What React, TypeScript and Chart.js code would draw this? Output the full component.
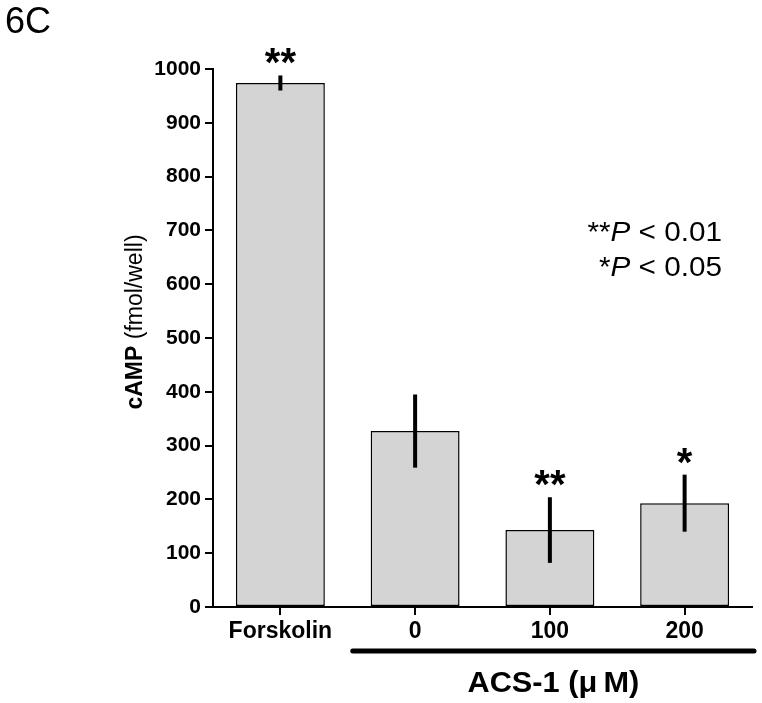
import React, { useEffect, useRef } from "react";
import { Chart, registerables } from "chart.js";

Chart.register(...registerables);

const categories = ["Forskolin", "0", "100", "200"];
const means = [974, 327, 143, 193];
const errors = [14, 68, 61, 53];
const stars = ["**", "", "**", "*"];
const yMin = 0;
const yMax = 1000;
const yStep = 100;

const FONT = "'Liberation Sans', Arial, Helvetica, sans-serif";

const overlayPlugin = {
  id: "overlay",
  afterDatasetsDraw(chart: any) {
    const ctx = chart.ctx;
    const x = chart.scales.x;
    const y = chart.scales.y;
    ctx.save();
    // error bars
    ctx.strokeStyle = "#000";
    ctx.lineWidth = 4;
    ctx.lineCap = "butt";
    means.forEach((m, i) => {
      const px = x.getPixelForValue(i);
      ctx.beginPath();
      ctx.moveTo(px, y.getPixelForValue(m + errors[i]));
      ctx.lineTo(px, y.getPixelForValue(m - errors[i]));
      ctx.stroke();
    });
    // significance stars
    ctx.fillStyle = "#000";
    ctx.font = `bold 40px ${FONT}`;
    ctx.textAlign = "center";
    ctx.textBaseline = "alphabetic";
    stars.forEach((s, i) => {
      if (!s) return;
      const px = x.getPixelForValue(i);
      const top = y.getPixelForValue(means[i] + errors[i]);
      ctx.fillText(s, px, top + 1);
    });
    ctx.restore();
  },
  afterDraw(chart: any) {
    const ctx = chart.ctx;
    const x = chart.scales.x;
    const area = chart.chartArea;
    ctx.save();
    ctx.fillStyle = "#000";
    ctx.textBaseline = "alphabetic";

    // panel label
    ctx.font = `36px ${FONT}`;
    ctx.textAlign = "left";
    ctx.fillText("6C", 5, 33);

    // y-axis title, mixed weight
    ctx.save();
    const cy = (area.top + area.bottom) / 2 - 16;
    ctx.translate(142, cy);
    ctx.rotate(-Math.PI / 2);
    ctx.font = `bold 23px ${FONT}`;
    const t1 = "cAMP ";
    const w1 = ctx.measureText(t1).width;
    ctx.font = `23px ${FONT}`;
    const t2 = "(fmol/well)";
    const w2 = ctx.measureText(t2).width;
    const start = -(w1 + w2) / 2;
    ctx.textAlign = "left";
    ctx.font = `bold 23px ${FONT}`;
    ctx.fillText(t1, start, 0);
    ctx.font = `23px ${FONT}`;
    ctx.fillText(t2, start + w1, 0);
    ctx.restore();

    // group underline for ACS-1 doses
    const half = (x.getPixelForValue(1) - x.getPixelForValue(0)) / 2;
    const x1 = x.getPixelForValue(1) - half + 5;
    const x2 = x.getPixelForValue(3) + half + 2;
    ctx.strokeStyle = "#000";
    ctx.lineWidth = 5;
    ctx.lineCap = "round";
    ctx.beginPath();
    ctx.moveTo(x1, 651);
    ctx.lineTo(x2, 651);
    ctx.stroke();

    ctx.save();
    ctx.translate((x1 + x2) / 2, 692);
    ctx.scale(1.06, 1);
    ctx.font = `bold 29px ${FONT}`;
    ctx.textAlign = "center";
    ctx.fillText("ACS-1 (\u03bc\u2009M)", 0, 0);
    ctx.restore();

    // P value legend (right aligned)
    const sx = 1.1;
    const size = 27;
    const drawLine = (parts: [string, boolean][], right: number, base: number) => {
      let total = 0;
      parts.forEach(([t, it]) => {
        ctx.font = `${it ? "italic " : ""}${size}px ${FONT}`;
        total += ctx.measureText(t).width;
      });
      ctx.save();
      ctx.translate(right, base);
      ctx.scale(sx, 1);
      let cx = -total;
      ctx.textAlign = "left";
      parts.forEach(([t, it]) => {
        ctx.font = `${it ? "italic " : ""}${size}px ${FONT}`;
        ctx.fillText(t, cx, 0);
        cx += ctx.measureText(t).width;
      });
      ctx.restore();
    };
    drawLine([["**", false], ["P", true], [" < 0.01", false]], 722, 241);
    drawLine([["*", false], ["P", true], [" < 0.05", false]], 722, 276);

    ctx.restore();
  },
};

export default function App() {
  const ref = useRef<HTMLCanvasElement | null>(null);

  useEffect(() => {
    if (!ref.current) return;
    const chart = new Chart(ref.current, {
      type: "bar",
      data: {
        labels: categories,
        datasets: [
          {
            data: means,
            backgroundColor: "#d4d4d4",
            borderColor: "#000",
            borderWidth: 1.5,
            borderSkipped: false,
            barPercentage: 0.66,
            categoryPercentage: 1,
          },
        ],
      },
      options: {
        responsive: false,
        animation: false,
        layout: { padding: { top: 69, right: 10, left: 0, bottom: 0 } },
        plugins: {
          legend: { display: false },
          tooltip: { enabled: false },
        },
        scales: {
          x: {
            offset: true,
            grid: {
              offset: false,
              drawOnChartArea: false,
              drawTicks: true,
              tickLength: 8,
              color: "#000",
              lineWidth: 2,
            },
            border: { display: true, color: "#000", width: 2 },
            ticks: {
              color: "#000",
              font: { family: FONT, size: 23, weight: "bold" },
              padding: 3,
              maxRotation: 0,
            },
            afterFit: (s: any) => {
              s.height = 96;
            },
          },
          y: {
            min: yMin,
            max: yMax,
            grid: {
              drawOnChartArea: false,
              drawTicks: true,
              tickLength: 8,
              color: "#000",
              lineWidth: 2,
            },
            border: { display: true, color: "#000", width: 2 },
            ticks: {
              stepSize: yStep,
              color: "#000",
              font: { family: FONT, size: 21, weight: "bold" },
              padding: 4,
              callback: (v: any) => String(v),
            },
            afterFit: (s: any) => {
              s.width = 213;
            },
          },
        },
      },
      plugins: [overlayPlugin],
    });
    return () => chart.destroy();
  }, []);

  return (
    <div style={{ position: "absolute", left: 0, top: 0, width: 762, height: 703, background: "#fff" }}>
      <canvas ref={ref} width={762} height={703} style={{ display: "block" }} />
    </div>
  );
}
